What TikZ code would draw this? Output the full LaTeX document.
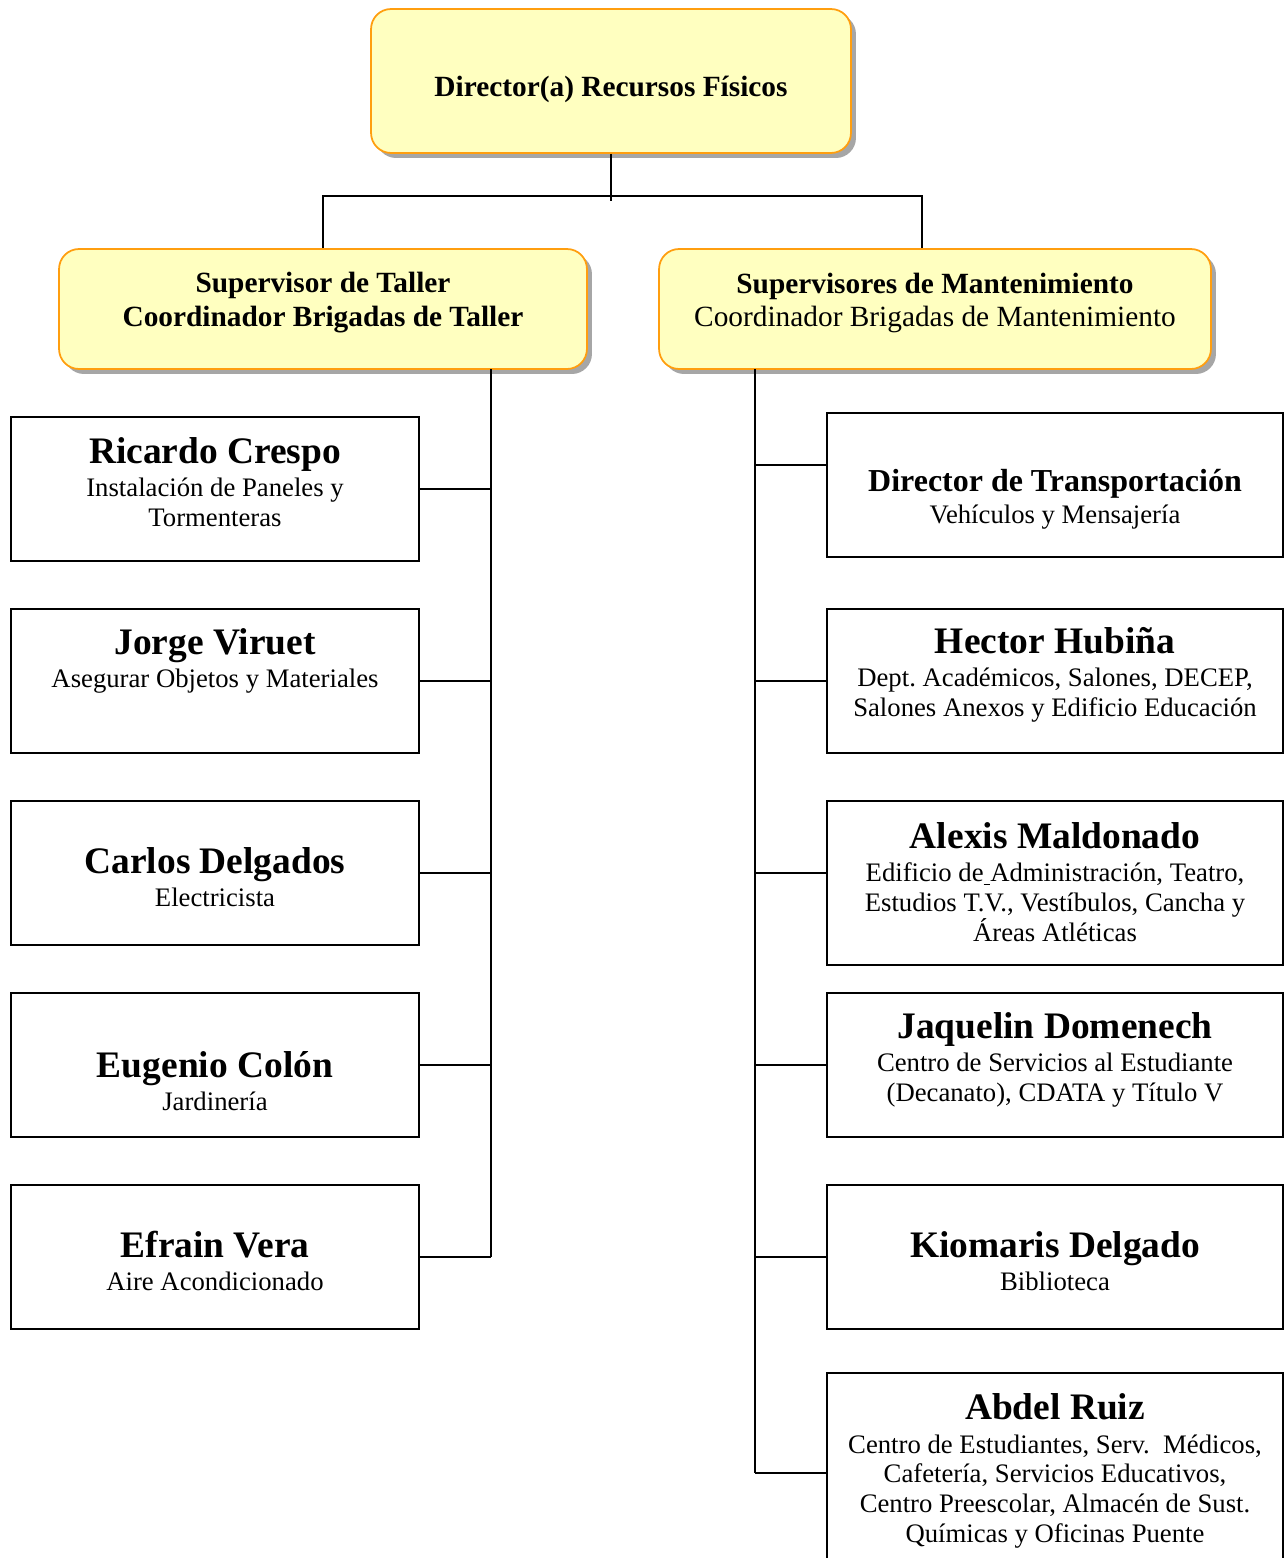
\documentclass[tikz,border=0pt]{standalone}
\usepackage{fontspec}
\setmainfont{Liberation Serif}
\usetikzlibrary{shadows}
\definecolor{borde}{HTML}{FF9E0F}
\definecolor{relleno}{HTML}{FFFFC0}
\newcommand{\nom}[1]{{\fontsize{21.3}{25}\selectfont\bfseries #1}}
\frenchspacing
\tikzset{
  jefe/.style={draw=borde, fill=relleno, line width=1pt, rounded corners=0.4cm,
    minimum height=2.4cm, inner sep=0pt,
    drop shadow={shadow xshift=0.1cm, shadow yshift=-0.1cm, fill=black!35, opacity=1}},
  persona/.style={draw, line width=1pt, minimum width=8.16cm, minimum height=2.88cm, inner sep=0pt},
  personaR/.style={persona, minimum width=9.12cm},
  texto/.style={align=center, inner sep=0pt, font=\fontsize{15.2}{17}\selectfont},
  textojefe/.style={align=center, inner sep=0pt, font=\fontsize{16.7}{19.3}\selectfont},
  linea/.style={line width=1pt}
}
\begin{document}
\begin{tikzpicture}[x=0.02cm, y=-0.02cm]
        \useasboundingbox (0,0) rectangle (1287,1558);
        % jefes
        \node[jefe, minimum width=9.6cm, minimum height=2.88cm] (dir) at (611,81) {};
        \node[textojefe, font=\fontsize{16.7}{19.3}\selectfont\bfseries] (dirt) at (611,89) {Director(a) Recursos Físicos};
        \node[jefe, minimum width=10.56cm] (supL) at (323,309) {};
        \node[textojefe, font=\fontsize{16.7}{19.3}\selectfont\bfseries] (supLt) at (323,303) {Supervisor de Taller\\Coordinador Brigadas de Taller};
        \node[jefe, minimum width=11.04cm] (supR) at (935,309) {};
        \node[textojefe] (supRt) at (935,303) {\textbf{Supervisores de Mantenimiento}\\Coordinador Brigadas de Mantenimiento};
        % taller
        \node[persona] (p1) at (215,489) {};
        \node[texto] (p1t) at (215,482) {\nom{Ricardo Crespo}\\[2pt]Instalación de Paneles y\\Tormenteras};
        \node[persona] (p2) at (215,681) {};
        \node[texto] (p2t) at (215,661) {\nom{Jorge Viruet}\\[2pt]Asegurar Objetos y Materiales};
        \node[persona] (p3) at (215,873) {};
        \node[texto] (p3t) at (215,877) {\nom{Carlos Delgados}\\[2pt]Electricista};
        \node[persona] (p4) at (215,1065) {};
        \node[texto] (p4t) at (215,1081) {\nom{Eugenio Colón}\\[2pt]Jardinería};
        \node[persona] (p5) at (215,1257) {};
        \node[texto] (p5t) at (215,1261) {\nom{Efrain Vera}\\[2pt]Aire Acondicionado};
        % mantenimiento
        \node[personaR] (p6) at (1055,485) {};
        \node[texto] (p6t) at (1055,499) {{\fontsize{18.2}{21}\selectfont\bfseries Director de Transportación}\\[1pt]Vehículos y Mensajería};
        \node[personaR] (p7) at (1055,681) {};
        \node[texto] (p7t) at (1055,675) {\nom{Hector Hubiña}\\[2pt]Dept. Académicos, Salones, DECEP,\\Salones Anexos y Edificio Educación};
        \node[personaR, minimum height=3.28cm] (p8) at (1055,883) {};
        \node[texto] (p8t) at (1055,882) {\nom{Alexis Maldonado}\\[2pt]Edificio de\underline{\ }Administración, Teatro,\\Estudios T.V., Vestíbulos, Cancha y\\Áreas Atléticas};
        \node[personaR] (p9) at (1055,1065) {};
        \node[texto] (p9t) at (1055,1060) {\nom{Jaquelin Domenech}\\[2pt]Centro de Servicios al Estudiante\\(Decanato), CDATA y Título V};
        \node[personaR] (p10) at (1055,1257) {};
        \node[texto] (p10t) at (1055,1261) {\nom{Kiomaris Delgado}\\[2pt]Biblioteca};
        \node[personaR, minimum height=4cm] (p11) at (1055,1473) {};
        \node[texto] (p11t) at (1055,1471) {\nom{Abdel Ruiz}\\[2pt]Centro de Estudiantes, Serv.\ \ Médicos,\\Cafetería, Servicios Educativos,\\Centro Preescolar, Almacén de Sust.\\Químicas y Oficinas Puente};
        % conectores
        \draw[linea] (dir.south) -- ++(0,47);
        \draw[linea] (supL.north) -- ++(0,-52) -| ([xshift=-0.26cm]supR.north);
        \coordinate (espL) at (491,369);
        \coordinate (espR) at (755,369);
        \coordinate (p6a) at ([yshift=0.4cm]p6.west);
        \coordinate (p8a) at ([yshift=0.2cm]p8.west);
        \draw[linea] (espL) -- (espL |- p5.east);
        \foreach \p in {p1,p2,p3,p4,p5}
            \draw[linea] (espL |- \p.east) -- (\p.east);
        \draw[linea] (espR) -- (espR |- p11.west);
        \foreach \p in {p6a,p7.west,p8a,p9.west,p10.west,p11.west}
            \draw[linea] (espR |- \p) -- (\p);
    \end{tikzpicture}
\end{document}
